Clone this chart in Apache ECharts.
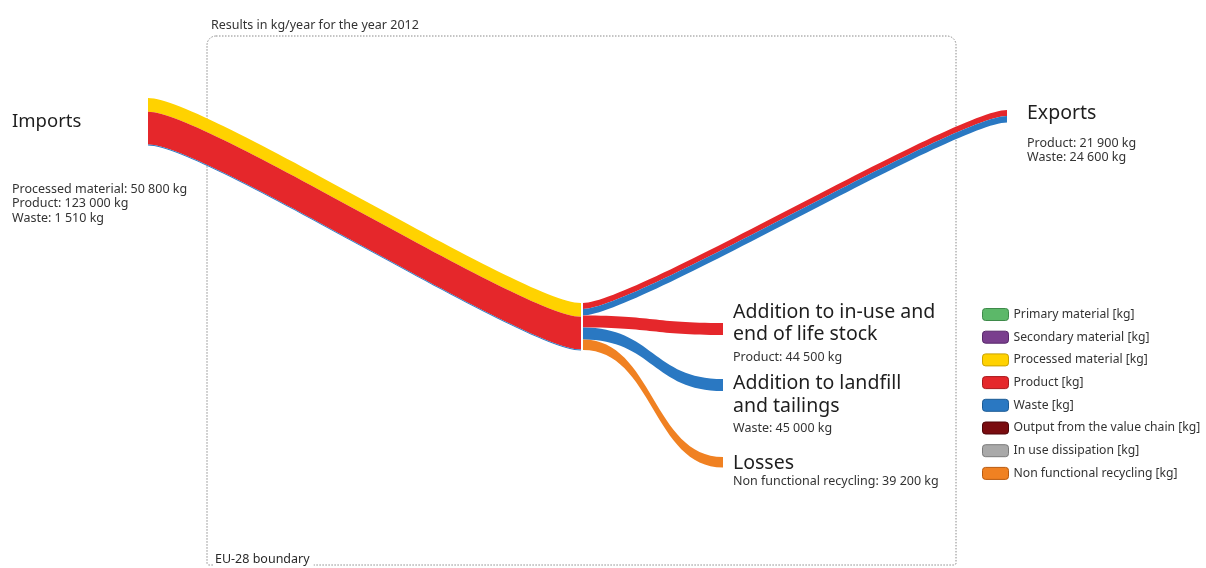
<!DOCTYPE html>
<html>
<head>
<meta charset="utf-8">
<script src="https://cdn.jsdelivr.net/npm/echarts@6/dist/echarts.min.js"></script>
<style>
html, body { margin: 0; padding: 0; background: #fff; }
#chart { width: 1206px; height: 568px; }
</style>
</head>
<body>
<div id="chart"></div>
<script>
// flows in kg/year, year 2012
const nodeNames = ['Imports', 'EU-28', 'Exports', 'Stock', 'Landfill', 'Losses']
const linkSource = ['Imports', 'Imports', 'Imports', 'EU-28', 'EU-28', 'EU-28', 'EU-28', 'EU-28']
const linkTarget = ['EU-28', 'EU-28', 'EU-28', 'Exports', 'Exports', 'Stock', 'Landfill', 'Losses']
const linkMaterial = ['Processed material', 'Product', 'Waste', 'Product', 'Waste', 'Product', 'Waste', 'Non functional recycling']
const linkValue = [50800, 123000, 1510, 21900, 24600, 44500, 45000, 39200]

const legendNames = [
    'Primary material [kg]',
    'Secondary material [kg]',
    'Processed material [kg]',
    'Product [kg]',
    'Waste [kg]',
    'Output from the value chain [kg]',
    'In use dissipation [kg]',
    'Non functional recycling [kg]',
]

// colours
const materialColor = {
    'Primary material': '#5cb869',
    'Secondary material': '#7a3f8e',
    'Processed material': '#ffd200',
    'Product': '#e5272b',
    'Waste': '#2a78c2',
    'Output from the value chain': '#7a0c10',
    'In use dissipation': '#a9a9a9',
    'Non functional recycling': '#f08122',
}
const materialBorder = ['#3e8a4a', '#57286a', '#c9a200', '#a8181c', '#1b5a94', '#4e0508', '#7a7a7a', '#b85a10']

// where the nodes sit (px), the sankey gets them as fractions
const SK_W = 1206
const SK_H = 440
const nodePlace = {
    'Imports': [146, 98],
    'EU-28': [581, 303],
    'Exports': [1007, 110],
    'Stock': [723, 323],
    'Landfill': [723, 379],
    'Losses': [723, 457],
}
const curveOf = { 'EU-28': 0.13, 'Exports': 0.12, 'Stock': 0.5, 'Landfill': 0.5, 'Losses': 0.5 }

const fmt = v => String(v).replace(/\B(?=(\d{3})+(?!\d))/g, ' ') + ' kg'

const flowOf = (src, tgt, mat) => {
    for (let i = 0; i < linkValue.length; i++) {
        if (linkSource[i] === src && linkTarget[i] === tgt && linkMaterial[i] === mat) return linkValue[i]
    }
    return 0
}

const chart = echarts.init(document.getElementById('chart'))

const nodes = nodeNames.map(name => ({
    name,
    localX: nodePlace[name][0] / SK_W,
    localY: nodePlace[name][1] / SK_H,
    itemStyle: name === 'EU-28' ? { color: '#fff', borderWidth: 0 } : { color: 'transparent', borderWidth: 0 },
}))

const links = linkValue.map((v, i) => ({
    source: linkSource[i],
    target: linkTarget[i],
    value: v,
    lineStyle: {
        color: materialColor[linkMaterial[i]],
        opacity: 1,
        curveness: curveOf[linkTarget[i]],
    },
}))

const FONT = '"Noto Sans", "Open Sans", sans-serif'
const SMALL = 12.5
const BIG = 19.5
const texts = []
const addText = (x, y, text, size, color) => {
    texts.push({
        type: 'text',
        x, y,
        silent: true,
        style: {
            text,
            fill: color || '#2a2a2a',
            fontSize: size,
            fontFamily: FONT,
            align: 'left',
            verticalAlign: 'middle',
        },
    })
}

addText(211, 25, 'Results in kg/year for the year 2012', SMALL, '#333')

addText(12, 122, 'Imports', 18.5, '#1e1e1e')
addText(12, 189, 'Processed material: ' + fmt(flowOf('Imports', 'EU-28', 'Processed material')), SMALL, '#333')
addText(12, 203.5, 'Product: ' + fmt(flowOf('Imports', 'EU-28', 'Product')), SMALL, '#333')
addText(12, 218, 'Waste: ' + fmt(flowOf('Imports', 'EU-28', 'Waste')), SMALL, '#333')

addText(1027, 113, 'Exports', BIG, '#1e1e1e')
addText(1027, 143, 'Product: ' + fmt(flowOf('EU-28', 'Exports', 'Product')), SMALL, '#333')
addText(1027, 157, 'Waste: ' + fmt(flowOf('EU-28', 'Exports', 'Waste')), SMALL, '#333')

addText(733, 312, 'Addition to in-use and', BIG, '#1e1e1e')
addText(733, 334, 'end of life stock', BIG, '#1e1e1e')
addText(733, 357, 'Product: ' + fmt(flowOf('EU-28', 'Stock', 'Product')), SMALL, '#333')

addText(733, 383, 'Addition to landfill', BIG, '#1e1e1e')
addText(733, 406, 'and tailings', BIG, '#1e1e1e')
addText(733, 428, 'Waste: ' + fmt(flowOf('EU-28', 'Landfill', 'Waste')), SMALL, '#333')

addText(733, 463, 'Losses', BIG, '#1e1e1e')
addText(733, 481, 'Non functional recycling: ' + fmt(flowOf('EU-28', 'Losses', 'Non functional recycling')), SMALL, '#333')

const option = {
    backgroundColor: '#fff',
    animation: false,
    legend: {
        orient: 'vertical',
        left: 982,
        top: 308,
        padding: 0,
        itemWidth: 26,
        itemHeight: 12,
        itemGap: 9.7,
        icon: 'roundRect',
        selectedMode: false,
        textStyle: { fontSize: 12.2, color: '#333', fontFamily: FONT },
        data: legendNames.map((name, i) => ({
            name,
            itemStyle: { borderColor: materialBorder[i], borderWidth: 1 },
        })),
    },
    graphic: [
        {
            type: 'rect',
            silent: true,
            shape: { x: 207, y: 36, width: 749, height: 529, r: [9, 9, 2, 2] },
            style: { fill: 'none', stroke: '#8a8a8a', lineWidth: 1, lineDash: [1.5, 1.5] },
            z: 0,
        },
        {
            type: 'text',
            x: 213,
            y: 559,
            silent: true,
            style: {
                text: 'EU-28 boundary',
                fill: '#2a2a2a',
                fontSize: SMALL,
                fontFamily: FONT,
                verticalAlign: 'middle',
                backgroundColor: '#fff',
                padding: [2, 4, 8, 2],
            },
            z: 5,
        },
        ...texts,
    ],
    series: [
        {
            type: 'sankey',
            left: 0,
            top: 0,
            width: SK_W,
            height: SK_H,
            nodeWidth: 2,
            nodeGap: 131,
            layoutIterations: 0,
            draggable: false,
            silent: true,
            emphasis: { disabled: true },
            label: { show: false },
            data: nodes,
            links: links,
            z: 3,
        },
        {
            // only feeds the legend
            type: 'pie',
            radius: 0,
            silent: true,
            label: { show: false },
            labelLine: { show: false },
            stillShowZeroSum: false,
            data: legendNames.map(name => ({
                name,
                value: 0,
                itemStyle: { color: materialColor[name.replace(' [kg]', '')] },
            })),
        },
    ],
}

option && chart.setOption(option)
</script>
</body>
</html>
